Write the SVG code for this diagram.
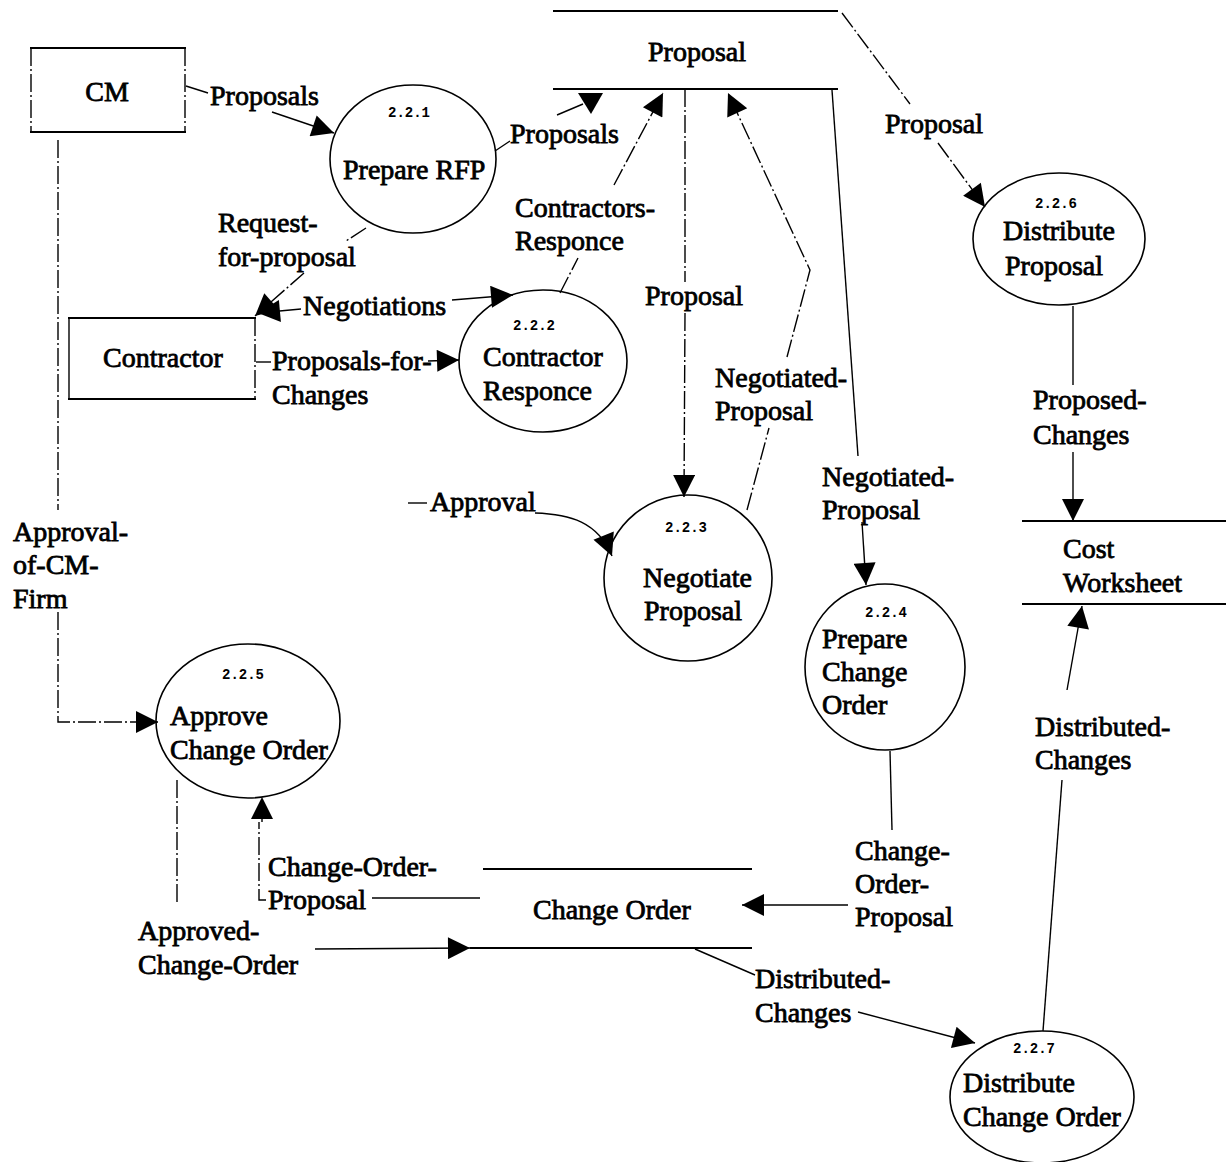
<svg xmlns="http://www.w3.org/2000/svg" width="1229" height="1162" viewBox="0 0 1229 1162">
  <style>
    .lbl { font-family: "Liberation Serif", "Times New Roman", serif; font-size: 28px; fill: #000; stroke: #000; stroke-width: 0.8; }
    .num { font-family: "Liberation Mono", "Courier New", monospace; font-size: 14px; font-weight: bold; fill: #000; }
    .proc { fill: #fff; stroke: #000; stroke-width: 1.6; }
    .ln { fill: none; stroke: #000; stroke-width: 1.4; }
    .dl { fill: none; stroke: #000; stroke-width: 1.4; stroke-dasharray: 18 3 2 3; }
    .bar { stroke: #000; stroke-width: 2.2; }
  </style>
  <defs>
    <marker id="arr" viewBox="0 0 10 10" refX="10" refY="5" markerWidth="25" markerHeight="22" markerUnits="userSpaceOnUse" orient="auto">
      <path d="M0,0 L10,5 L0,10 z" fill="#000"/>
    </marker>
  </defs>
  <rect width="1229" height="1162" fill="#fff"/>

  <!-- external entities -->
  <g id="cm">
    <line class="bar" x1="30" y1="48" x2="186" y2="48"/>
    <line class="bar" x1="30" y1="132" x2="186" y2="132"/>
    <line class="dl" x1="31" y1="48" x2="31" y2="132"/>
    <line class="dl" x1="185" y1="48" x2="185" y2="132"/>
    <text class="lbl" x="107" y="101" text-anchor="middle">CM</text>
  </g>
  <g id="contractor">
    <line class="bar" x1="68" y1="318" x2="256" y2="318"/>
    <line class="bar" x1="68" y1="399" x2="256" y2="399"/>
    <line class="ln" x1="69" y1="318" x2="69" y2="399"/>
    <line class="dl" x1="255" y1="318" x2="255" y2="399"/>
    <text class="lbl" x="103" y="367">Contractor</text>
  </g>

  <!-- data stores -->
  <g id="store-proposal">
    <line class="bar" x1="553" y1="11" x2="838" y2="11"/>
    <line class="bar" x1="553" y1="89" x2="838" y2="89"/>
    <text class="lbl" x="697" y="61" text-anchor="middle">Proposal</text>
  </g>
  <g id="store-cost-worksheet">
    <line class="bar" x1="1022" y1="521" x2="1226" y2="521"/>
    <line class="bar" x1="1022" y1="604" x2="1226" y2="604"/>
    <text class="lbl" x="1063" y="558">Cost</text>
    <text class="lbl" x="1063" y="592">Worksheet</text>
  </g>
  <g id="store-change-order">
    <line class="bar" x1="483" y1="869" x2="752" y2="869"/>
    <line class="bar" x1="470" y1="948" x2="752" y2="948"/>
    <text class="lbl" x="533" y="919">Change Order</text>
  </g>

  <!-- processes -->
  <g id="p221">
    <ellipse class="proc" cx="413" cy="159" rx="83" ry="74"/>
    <text class="num" x="388" y="117">2.2.1</text>
    <text class="lbl" x="343" y="179">Prepare RFP</text>
  </g>
  <g id="p222">
    <ellipse class="proc" cx="543" cy="361" rx="84" ry="71"/>
    <text class="num" x="513" y="330">2.2.2</text>
    <text class="lbl" x="483" y="366">Contractor</text>
    <text class="lbl" x="483" y="400">Responce</text>
  </g>
  <g id="p223">
    <ellipse class="proc" cx="688" cy="578" rx="84" ry="83"/>
    <text class="num" x="665" y="532">2.2.3</text>
    <text class="lbl" x="643" y="587">Negotiate</text>
    <text class="lbl" x="644" y="620">Proposal</text>
  </g>
  <g id="p224">
    <ellipse class="proc" cx="885" cy="667" rx="80" ry="83"/>
    <text class="num" x="865" y="617">2.2.4</text>
    <text class="lbl" x="822" y="648">Prepare</text>
    <text class="lbl" x="822" y="681">Change</text>
    <text class="lbl" x="822" y="714">Order</text>
  </g>
  <g id="p225">
    <ellipse class="proc" cx="248" cy="721" rx="92" ry="77"/>
    <text class="num" x="222" y="679">2.2.5</text>
    <text class="lbl" x="170" y="725">Approve</text>
    <text class="lbl" x="170" y="759">Change Order</text>
  </g>
  <g id="p226">
    <ellipse class="proc" cx="1059" cy="239" rx="86" ry="66"/>
    <text class="num" x="1035" y="208">2.2.6</text>
    <text class="lbl" x="1003" y="240">Distribute</text>
    <text class="lbl" x="1005" y="275">Proposal</text>
  </g>
  <g id="p227">
    <ellipse class="proc" cx="1042" cy="1097" rx="92" ry="66"/>
    <text class="num" x="1013" y="1053">2.2.7</text>
    <text class="lbl" x="963" y="1092">Distribute</text>
    <text class="lbl" x="963" y="1126">Change Order</text>
  </g>

  <!-- data flows -->
  <g id="flows">
    <!-- CM to Prepare RFP -->
    <line class="ln" x1="186" y1="86" x2="208" y2="93"/>
    <line class="ln" x1="272" y1="112" x2="334" y2="133" marker-end="url(#arr)" stroke-width="2"/>
    <text class="lbl" x="210" y="105">Proposals</text>

    <!-- Prepare RFP to Proposal store -->
    <line class="ln" x1="495" y1="151" x2="510" y2="141"/>
    <line class="ln" x1="557" y1="115" x2="583" y2="104"/>
    <polygon points="578,93 603,93 591,114" fill="#000"/>
    <text class="lbl" x="510" y="143">Proposals</text>

    <!-- Contractor Responce to Proposal store -->
    <line class="dl" x1="560" y1="293" x2="578" y2="258"/>
    <line class="dl" x1="614" y1="185" x2="663" y2="93" marker-end="url(#arr)"/>
    <text class="lbl" x="515" y="217">Contractors-</text>
    <text class="lbl" x="515" y="250">Responce</text>

    <!-- Proposal store to Negotiate Proposal -->
    <line class="dl" x1="685" y1="89" x2="685" y2="282"/>
    <line class="dl" x1="685" y1="313" x2="684" y2="497" marker-end="url(#arr)"/>
    <text class="lbl" x="645" y="305">Proposal</text>

    <!-- Negotiate Proposal back to Proposal store -->
    <line class="dl" x1="747" y1="510" x2="769" y2="428"/>
    <polyline class="dl" points="787,357 810,270 728,93" marker-end="url(#arr)"/>
    <text class="lbl" x="715" y="387">Negotiated-</text>
    <text class="lbl" x="715" y="420">Proposal</text>

    <!-- Proposal store to Prepare Change Order -->
    <line class="ln" x1="832" y1="90" x2="858" y2="456"/>
    <line class="ln" x1="862" y1="522" x2="866" y2="585" marker-end="url(#arr)"/>
    <text class="lbl" x="822" y="486">Negotiated-</text>
    <text class="lbl" x="822" y="519">Proposal</text>

    <!-- Proposal store to Distribute Proposal -->
    <line class="dl" x1="842" y1="13" x2="910" y2="104"/>
    <line class="dl" x1="938" y1="143" x2="985" y2="207" marker-end="url(#arr)"/>
    <text class="lbl" x="885" y="133">Proposal</text>

    <!-- Distribute Proposal to Cost Worksheet -->
    <line class="ln" x1="1073" y1="306" x2="1073" y2="385"/>
    <line class="ln" x1="1073" y1="452" x2="1073" y2="521" marker-end="url(#arr)"/>
    <text class="lbl" x="1033" y="409">Proposed-</text>
    <text class="lbl" x="1033" y="444">Changes</text>

    <!-- CM to Approve Change Order -->
    <line class="dl" x1="58" y1="140" x2="58" y2="510"/>
    <polyline class="dl" points="58,612 58,722 158,722" marker-end="url(#arr)"/>
    <text class="lbl" x="13" y="541">Approval-</text>
    <text class="lbl" x="13" y="574">of-CM-</text>
    <text class="lbl" x="13" y="608">Firm</text>

    <!-- Prepare RFP to Contractor -->
    <line class="dl" x1="366" y1="228" x2="346" y2="241"/>
    <line class="dl" x1="304" y1="273" x2="255" y2="316" marker-end="url(#arr)"/>
    <text class="lbl" x="218" y="232">Request-</text>
    <text class="lbl" x="218" y="266">for-proposal</text>

    <!-- Negotiations, both ways -->
    <line class="ln" x1="301" y1="309" x2="258" y2="313" marker-end="url(#arr)"/>
    <line class="ln" x1="452" y1="300" x2="513" y2="295" marker-end="url(#arr)" stroke-width="2"/>
    <text class="lbl" x="303" y="315">Negotiations</text>

    <!-- Contractor to Contractor Responce -->
    <line class="ln" x1="256" y1="362" x2="271" y2="362"/>
    <line class="ln" x1="428" y1="361" x2="459" y2="360" marker-end="url(#arr)"/>
    <text class="lbl" x="272" y="370">Proposals-for-</text>
    <text class="lbl" x="272" y="404">Changes</text>

    <!-- Approval into Negotiate Proposal -->
    <line class="ln" x1="408" y1="503" x2="427" y2="503"/>
    <path class="ln" d="M535,513 C570,514 598,522 612,556" marker-end="url(#arr)" stroke-width="1.8"/>
    <text class="lbl" x="430" y="511">Approval</text>

    <!-- Prepare Change Order to Change Order store -->
    <line class="ln" x1="890" y1="751" x2="892" y2="830"/>
    <line class="ln" x1="848" y1="905" x2="742" y2="905" marker-end="url(#arr)" stroke-width="2"/>
    <text class="lbl" x="855" y="860">Change-</text>
    <text class="lbl" x="855" y="893">Order-</text>
    <text class="lbl" x="855" y="926">Proposal</text>

    <!-- Change Order store to Approve Change Order -->
    <line class="ln" x1="372" y1="898" x2="480" y2="898"/>
    <polyline class="dl" points="266,900 259,900 259,822"/>
    <line class="dl" x1="262" y1="822" x2="262" y2="797" marker-end="url(#arr)"/>
    <text class="lbl" x="268" y="876">Change-Order-</text>
    <text class="lbl" x="268" y="909">Proposal</text>

    <!-- Approve Change Order to Change Order store -->
    <line class="dl" x1="177" y1="780" x2="177" y2="905"/>
    <line class="ln" x1="315" y1="949" x2="470" y2="948" marker-end="url(#arr)" stroke-width="2"/>
    <text class="lbl" x="138" y="940">Approved-</text>
    <text class="lbl" x="138" y="974">Change-Order</text>

    <!-- Change Order store to Distribute Change Order -->
    <line class="ln" x1="695" y1="949" x2="755" y2="975"/>
    <line class="ln" x1="858" y1="1012" x2="975" y2="1043" marker-end="url(#arr)" stroke-width="2"/>
    <text class="lbl" x="755" y="988">Distributed-</text>
    <text class="lbl" x="755" y="1022">Changes</text>

    <!-- Distribute Change Order to Cost Worksheet -->
    <line class="ln" x1="1043" y1="1031" x2="1062" y2="780"/>
    <line class="ln" x1="1067" y1="690" x2="1082" y2="606" marker-end="url(#arr)"/>
    <text class="lbl" x="1035" y="736">Distributed-</text>
    <text class="lbl" x="1035" y="769">Changes</text>
  </g>
</svg>
